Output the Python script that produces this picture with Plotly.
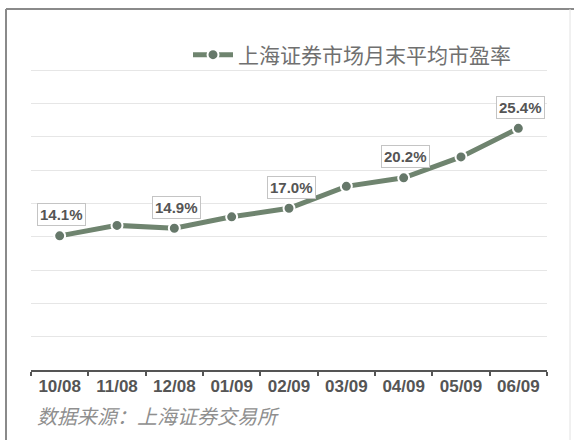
import plotly.graph_objects as go

categories = ["10/08", "11/08", "12/08", "01/09", "02/09", "03/09", "04/09", "05/09", "06/09"]
pe_values = [14.1, 15.2, 14.9, 16.1, 17.0, 19.3, 20.2, 22.4, 25.4]
labeled_idx = [0, 2, 4, 6, 8]
series_name = "上海证券市场月末平均市盈率"
source_text = "数据来源：上海证券交易所"

W, H = 574, 440
ML, MR, MT, MB = 31, 27, 37, 70
PW, PH = W - ML - MR, H - MT - MB


def px2x(px):
    return (px - ML) / PW


def py2y(py):
    return (H - MB - py) / PH


line_color = "#6f846f"
marker_color = "#66786a"

fig = go.Figure()
fig.add_trace(go.Scatter(
    x=categories, y=pe_values, mode="lines+markers", name=series_name,
    line=dict(color=line_color, width=5),
    marker=dict(color=marker_color, size=11, line=dict(color="white", width=2)),
    hoverinfo="skip",
))

annotations = []
for i in labeled_idx:
    annotations.append(dict(
        x=categories[i], y=pe_values[i], xref="x", yref="y",
        text=f"{pe_values[i]:.1f}%", showarrow=False,
        yshift=21, xshift=2,
        font=dict(family="Liberation Sans, Arial", size=15, color="#555", weight="bold"),
        bgcolor="white", bordercolor="#c4c4c4", borderwidth=1, borderpad=2,
    ))

annotations.append(dict(
    x=px2x(35), y=py2y(415), xref="paper", yref="paper",
    xanchor="left", yanchor="middle", showarrow=False,
    text=source_text,
    font=dict(family="Noto Sans CJK SC", size=20, color="#8f8f8f", style="italic"),
))

shapes = [
    dict(type="line", xref="paper", yref="paper", x0=px2x(6), x1=px2x(574), y0=py2y(9), y1=py2y(9),
         line=dict(color="#8a8a8a", width=2)),
    dict(type="line", xref="paper", yref="paper", x0=px2x(6), x1=px2x(6), y0=py2y(9), y1=py2y(440),
         line=dict(color="#8a8a8a", width=2)),
    dict(type="line", xref="paper", yref="paper", x0=px2x(570), x1=px2x(570), y0=py2y(9), y1=py2y(440),
         line=dict(color="#e2e2e2", width=1)),
]

fig.update_layout(
    width=W, height=H,
    margin=dict(l=ML, r=MR, t=MT, b=MB, pad=0),
    paper_bgcolor="white", plot_bgcolor="white",
    showlegend=True,
    legend=dict(
        x=px2x(188), y=py2y(55), xanchor="left", yanchor="middle",
        orientation="h", bgcolor="rgba(0,0,0,0)",
        font=dict(family="Noto Sans CJK SC", size=21, color="#707070"),
        itemwidth=40,
    ),
    xaxis=dict(
        type="category", range=[-0.5, len(categories) - 0.5],
        tickson="boundaries", ticks="outside", ticklen=4, tickwidth=2, tickcolor="#555",
        showline=True, linecolor="#555", linewidth=2,
        showgrid=False, zeroline=False,
        tickfont=dict(family="Liberation Sans, Arial", size=17, color="#555", weight="bold"),
    ),
    yaxis=dict(
        range=[0, 35], dtick=3.5, showticklabels=False,
        showgrid=True, gridcolor="#e6e6e6", gridwidth=1,
        zeroline=False, showline=False, ticks="",
    ),
    annotations=annotations,
    shapes=shapes,
)

fig.write_html(
    "out.html",
    config={"displayModeBar": False, "staticPlot": True},
    post_script="document.body.style.margin='0';document.body.style.overflow='hidden';",
)
